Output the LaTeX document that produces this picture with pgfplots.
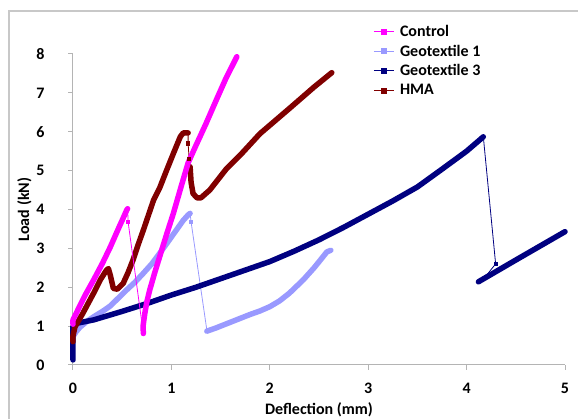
\documentclass[border=0pt]{standalone}
\usepackage{fontspec}
\setmainfont{Carlito}
\usepackage{pgfplots}
\pgfplotsset{compat=1.18}
\definecolor{ctrl}{HTML}{FF00FF}
\definecolor{geoA}{HTML}{9999FF}
\definecolor{geoC}{HTML}{000080}
\definecolor{hma}{HTML}{800000}
\definecolor{framegray}{HTML}{C8C8C8}
\definecolor{axgray}{HTML}{B4B4B4}
\pgfplotsset{
  thickline/.style={line width=5.5pt, line join=round, line cap=round, no marks, forget plot},
  thinline/.style={line width=0.8pt, mark=square*, mark size=1.6pt, forget plot},
  lgd/.style={legend image code/.code={
      \draw[##1, line width=1pt] (0pt,0pt) -- (20pt,0pt);
      \fill[##1] (7.5pt,-2.5pt) rectangle (12.5pt,2.5pt);
      \path (24pt,0pt);}},
}
\begin{document}
\begin{tikzpicture}[x=1pt,y=1pt]
\useasboundingbox (0,0) rectangle (578,419);
\draw[framegray, line width=1.5pt] (9,-2) -- (9,408) -- (580,408);
\begin{axis}[
  at={(73pt,54pt)}, anchor=south west,
  scale only axis, width=492pt, height=311pt,
  xmin=0, xmax=5, ymin=0, ymax=8,
  xtick={0,1,2,3,4,5}, ytick={0,1,2,3,4,5,6,7,8},
  axis x line*=bottom, axis y line*=left,
  axis line style={axgray, line width=1pt, -},
  tick align=outside, major tick length=5pt,
  tick style={axgray, line width=1pt},
  /pgf/number format/assume math mode=true,
  ticklabel style={font=\fontsize{16}{19}\selectfont\bfseries, text=black},
  xticklabel style={yshift=-9.5pt},
  yticklabel style={xshift=-20pt},
  xlabel={Deflection (mm)}, ylabel={Load (kN)},
  label style={font=\fontsize{16}{19}\selectfont\bfseries},
  xlabel style={at={(axis description cs:0.5,-0.145)}, anchor=center},
  ylabel style={yshift=-2pt},
  legend style={draw=none, fill=none, at={(rel axis cs:0.61,1.1)}, anchor=north west,
    font=\fontsize{16}{19.5}\selectfont\bfseries, inner sep=0pt, row sep=3pt},
  legend cell align=left,
  clip=false,
]
\addlegendimage{lgd, ctrl}
\addlegendentry{Control}
\addlegendimage{lgd, geoA}
\addlegendentry{Geotextile 1}
\addlegendimage{lgd, geoC}
\addlegendentry{Geotextile 3}
\addlegendimage{lgd, hma}
\addlegendentry{HMA}

% Geotextile 1
\addplot[geoA, thickline] coordinates {
 (0,0.62) (0,0.73) (0.03,0.85) (0.07,0.97) (0.14,1.12) (0.21,1.24) (0.3,1.38)
 (0.38,1.52) (0.46,1.72) (0.545,1.93) (0.63,2.13) (0.715,2.36) (0.8,2.6)
 (0.88,2.87) (0.96,3.15) (1.05,3.47) (1.12,3.72) (1.17,3.86) (1.19,3.9)};
\addplot[geoA, thinline, mark indices={2}] coordinates {(1.19,3.9) (1.2,3.68) (1.36,0.9)};
\addplot[geoA, thickline] coordinates {
 (1.36,0.87) (1.45,0.95) (1.55,1.05) (1.66,1.16) (1.8,1.3) (1.9,1.39) (2.0,1.5)
 (2.1,1.65) (2.2,1.85) (2.34,2.19) (2.45,2.5) (2.53,2.75) (2.58,2.91) (2.62,2.95)};

% Geotextile 3
\addplot[geoC, thickline] coordinates {
 (0,0.13) (0,0.5) (0,1.0) (0.05,1.08) (0.21,1.16) (0.5,1.38) (0.75,1.58) (1.0,1.8)
 (1.25,2.0) (1.5,2.22) (1.75,2.44) (2.0,2.66) (2.25,2.93) (2.5,3.22) (2.75,3.54)
 (3.0,3.88) (3.25,4.22) (3.5,4.58) (3.73,5.0) (4.0,5.5) (4.17,5.87)};
\addplot[geoC, thinline, mark indices={2}] coordinates {(4.17,5.87) (4.295,2.6) (4.19,2.27)};
\addplot[geoC, thickline] coordinates {(4.12,2.14) (4.5,2.7) (5.0,3.43)};

% HMA
\addplot[hma, thickline] coordinates {
 (0,0.6) (0,0.75) (0.02,0.98) (0.1,1.33) (0.21,1.85) (0.28,2.2) (0.34,2.44)
 (0.36,2.48) (0.38,2.3) (0.41,1.97) (0.45,1.95) (0.51,2.1) (0.56,2.38) (0.61,2.7)
 (0.66,3.08) (0.715,3.47) (0.82,4.25) (0.88,4.55) (0.95,5.0) (1.02,5.44)
 (1.09,5.87) (1.12,5.97) (1.17,5.97)};
\addplot[hma, thinline, mark indices={2,3}] coordinates {(1.17,5.97) (1.17,5.7) (1.18,5.3) (1.19,5.1)};
\addplot[hma, thickline] coordinates {
 (1.19,5.1) (1.2,4.7) (1.22,4.41) (1.26,4.3) (1.3,4.3) (1.39,4.5) (1.56,5.05)
 (1.7,5.4) (1.9,5.95) (2.2,6.6) (2.45,7.15) (2.63,7.52)};

% Control
\addplot[ctrl, thickline] coordinates {
 (0,1.05) (0,1.16) (0.05,1.42) (0.12,1.78) (0.21,2.19) (0.3,2.62) (0.38,3.04)
 (0.46,3.5) (0.51,3.78) (0.545,3.98) (0.555,4.02)};
\addplot[ctrl, thinline, mark indices={2}] coordinates {(0.555,4.02) (0.56,3.68) (0.71,0.9)};
\addplot[ctrl, thickline] coordinates {
 (0.715,0.81) (0.712,1.0) (0.72,1.15) (0.73,1.33) (0.75,1.62) (0.78,1.93)
 (0.83,2.37) (0.88,2.78) (0.95,3.35) (1.02,3.9) (1.1,4.6) (1.17,5.2) (1.25,5.65)
 (1.35,6.2) (1.45,6.78) (1.55,7.35) (1.665,7.93)};
\end{axis}
\end{tikzpicture}
\end{document}
